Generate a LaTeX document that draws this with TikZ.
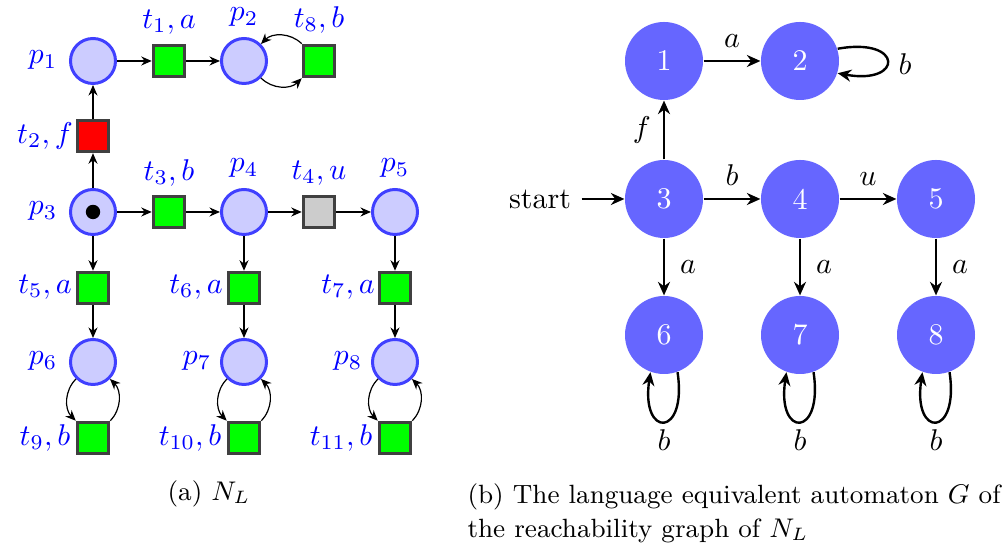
\documentclass[tikz,border=0pt]{standalone}
\usetikzlibrary{arrows.meta}
\begin{document}
\begin{tikzpicture}[x=0.3333pt,y=-0.3333pt,
 place/.style={circle,draw=blue!75,fill=blue!20,line width=1pt,minimum size=15pt,inner sep=0pt},
 trans/.style={rectangle,draw=black!75,fill=green,line width=1pt,minimum size=10.5pt,inner sep=0pt},
 lbl/.style={text=blue,inner sep=0pt},
 pn/.style={-{Stealth[length=3.5pt,width=3pt]},line width=0.4pt},
 state/.style={circle,fill=blue!60,text=white,minimum size=26pt,inner sep=0pt},
 ed/.style={-{Stealth[length=4.5pt,width=4pt]},line width=0.8pt},
 el/.style={inner sep=0pt}]
\useasboundingbox (0,0) rectangle (1003,543);
% ---------- Petri net ----------
\node[place] (p1) at (93,61) {};
\node[trans] (t1) at (169,61) {};
\node[place] (p2) at (244,61) {};
\node[trans] (t8) at (319,61) {};
\node[trans,fill=red] (t2) at (93,136) {};
\node[place] (p3) at (93,212) {};
\node[circle,fill=black,minimum size=4.8pt,inner sep=0pt] (tok) at (93,212) {};
\node[trans] (t3) at (169,212) {};
\node[place] (p4) at (244,212) {};
\node[trans,fill=black!20] (t4) at (319,212) {};
\node[place] (p5) at (395,212) {};
\node[trans] (t5) at (93,288) {};
\node[trans] (t6) at (244,288) {};
\node[trans] (t7) at (395,288) {};
\node[place] (p6) at (93,362) {};
\node[place] (p7) at (244,362) {};
\node[place] (p8) at (395,362) {};
\node[trans] (t9) at (93,438) {};
\node[trans] (t10) at (244,438) {};
\node[trans] (t11) at (395,438) {};
% labels
\node[lbl] (lp1) at (43,60) {$p_1$};
\node[lbl] (lt1) at (169,22) {$t_1, a$};
\node[lbl] (lp2) at (244,17) {$p_2$};
\node[lbl] (lt8) at (319,20) {$t_8, b$};
\node[lbl] (lt2) at (45,136) {$t_2, f$};
\node[lbl] (lp3) at (43,211) {$p_3$};
\node[lbl] (lt3) at (169,173) {$t_3, b$};
\node[lbl] (lp4) at (244,168) {$p_4$};
\node[lbl] (lt4) at (319,173) {$t_4, u$};
\node[lbl] (lp5) at (395,168) {$p_5$};
\node[lbl] (lt5) at (45,287) {$t_5, a$};
\node[lbl] (lt6) at (196,287) {$t_6, a$};
\node[lbl] (lt7) at (348,287) {$t_7, a$};
\node[lbl] (lp6) at (43,361) {$p_6$};
\node[lbl] (lp7) at (197,361) {$p_7$};
\node[lbl] (lp8) at (348,361) {$p_8$};
\node[lbl] (lt9) at (45,438) {$t_9, b$};
\node[lbl] (lt10) at (190,438) {$t_{10}, b$};
\node[lbl] (lt11) at (341,438) {$t_{11}, b$};
% arcs
\draw[pn] (p1) -- (t1);
\draw[pn] (t1) -- (p2);
\draw[pn] (t8) to[bend right=45] (p2);
\draw[pn] (p2) to[bend right=45] (t8);
\draw[pn] (p3) -- (t2);
\draw[pn] (t2) -- (p1);
\draw[pn] (p3) -- (t3);
\draw[pn] (t3) -- (p4);
\draw[pn] (p4) -- (t4);
\draw[pn] (t4) -- (p5);
\draw[pn] (p3) -- (t5);
\draw[pn] (p4) -- (t6);
\draw[pn] (p5) -- (t7);
\draw[pn] (t5) -- (p6);
\draw[pn] (t6) -- (p7);
\draw[pn] (t7) -- (p8);
\draw[pn] (p6) to[bend right=45] (t9);
\draw[pn] (t9) to[bend right=45] (p6);
\draw[pn] (p7) to[bend right=45] (t10);
\draw[pn] (t10) to[bend right=45] (p7);
\draw[pn] (p8) to[bend right=45] (t11);
\draw[pn] (t11) to[bend right=45] (p8);
\node (capa) at (209,494) {\fontsize{8.8}{10.5}\selectfont (a) $N_L$};
% ---------- Automaton ----------
\node[state] (s1) at (664,61) {1};
\node[state] (s2) at (800,61) {2};
\node[state] (s3) at (664,199) {3};
\node[state] (s4) at (800,199) {4};
\node[state] (s5) at (936,199) {5};
\node[state] (s6) at (664,335) {6};
\node[state] (s7) at (800,335) {7};
\node[state] (s8) at (936,335) {8};
\node (start) at (540,199) {start};
\draw[ed] (start) -- (s3);
\draw[ed] (s1) -- node[el,above=4pt] (la12) {$a$} (s2);
\draw[ed] (s3) -- node[el,left=4pt] (lf) {$f$} (s1);
\draw[ed] (s3) -- node[el,above=4pt] (lb34) {$b$} (s4);
\draw[ed] (s4) -- node[el,above=4pt] (lu) {$u$} (s5);
\draw[ed] (s3) -- node[el,right=5pt] (la36) {$a$} (s6);
\draw[ed] (s4) -- node[el,right=5pt] (la47) {$a$} (s7);
\draw[ed] (s5) -- node[el,right=5pt] (la58) {$a$} (s8);
\draw[ed] (s2.18) .. controls +(66,-12) and +(66,12) .. (s2.-18);
\node (lb2) at (905,64) {$b$};
\draw[ed] (s6.-70) .. controls +(10,66) and +(-10,66) .. (s6.-110);
\draw[ed] (s7.-70) .. controls +(10,66) and +(-10,66) .. (s7.-110);
\draw[ed] (s8.-70) .. controls +(10,66) and +(-10,66) .. (s8.-110);
\node (lb6) at (664,440) {$b$};
\node (lb7) at (800,440) {$b$};
\node (lb8) at (936,440) {$b$};
\node[anchor=north west,align=left,inner sep=0pt] (capb) at (467,483) {\fontsize{8.8}{10.5}\selectfont (b) The language equivalent automaton $G$ of\\[-0.5pt]\fontsize{8.8}{10.5}\selectfont the reachability graph of $N_L$};
\end{tikzpicture}
\end{document}
